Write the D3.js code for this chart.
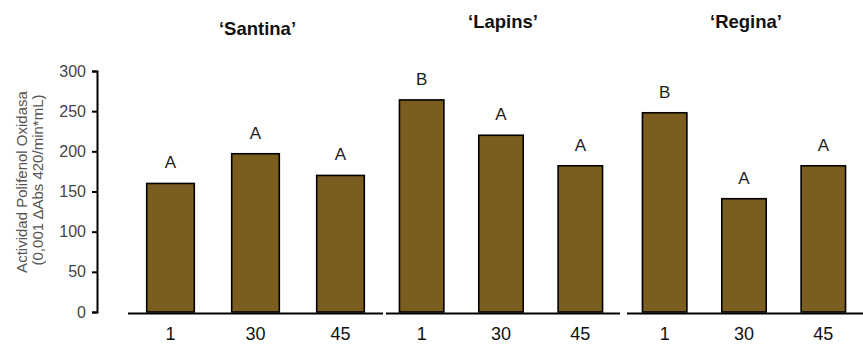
<!DOCTYPE html>
<html>
<head>
<meta charset="utf-8">
<script src="https://cdn.jsdelivr.net/npm/d3@7"></script>
<style>
  html, body { margin: 0; padding: 0; background: #fff; }
  svg { display: block; font-family: "Liberation Sans", Arial, sans-serif; }
</style>
</head>
<body>
<svg id="chart" width="863" height="345"></svg>
<script>
// Cultivars and storage days
const cultivars = ["\u2018Santina\u2019", "\u2018Lapins\u2019", "\u2018Regina\u2019"];
const days = ["1", "30", "45"];

// Polyphenol oxidase activity per cultivar, one value per storage day
const santina = [160, 197, 170];
const lapins  = [264, 220, 182];
const regina  = [248, 141, 182];
const series = [santina, lapins, regina];

// Significance letters per bar
const santinaLetters = ["A", "A", "A"];
const lapinsLetters  = ["B", "A", "A"];
const reginaLetters  = ["B", "A", "A"];
const letters = [santinaLetters, lapinsLetters, reginaLetters];

const yTicks = [0, 50, 100, 150, 200, 250, 300];
const yTitle = ["Actividad  Polifenol Oxidasa", "(0,001 \u0394Abs 420/min*mL)"];

// Layout
const panels = [
  { x0: 128, x1: 383, line0: 128, titleY: 35 },
  { x0: 382, x1: 620, line0: 386, titleY: 28 },
  { x0: 625, x1: 863, line0: 627, titleY: 28 }
];
const axisX = 97;
const fill = "#7b5d1f";

const svg = d3.select("#chart");

const y = d3.scaleLinear().domain([0, 300]).range([312, 71]);

// Y axis
const yAxis = svg.append("g")
  .attr("transform", `translate(${axisX},0)`)
  .call(d3.axisLeft(y).tickValues(yTicks).tickSize(5).tickSizeOuter(5).tickPadding(6));
yAxis.select(".domain").attr("stroke", "#000").attr("stroke-width", 2);
yAxis.selectAll(".tick line").attr("stroke", "#000").attr("stroke-width", 2);
yAxis.selectAll(".tick text")
  .attr("fill", "#444")
  .style("font-size", "16px")
  .style("font-family", "'Liberation Sans', Arial, sans-serif");

// Y title (two rotated lines)
const yMid = 182;
svg.append("text")
  .attr("transform", `translate(27,${yMid}) rotate(-90)`)
  .attr("text-anchor", "middle")
  .attr("fill", "#555")
  .style("font-size", "15px")
  .text(yTitle[0]);
svg.append("text")
  .attr("transform", `translate(43,${yMid - 2}) rotate(-90)`)
  .attr("text-anchor", "middle")
  .attr("fill", "#555")
  .style("font-size", "15px")
  .text(yTitle[1]);

panels.forEach((p, i) => {
  const x = d3.scaleBand()
    .domain(days)
    .range([p.x0, p.x1])
    .paddingInner(0.44)
    .paddingOuter(0.22);

  const g = svg.append("g");

  // bars
  g.selectAll("rect")
    .data(series[i])
    .join("rect")
    .attr("x", (d, j) => x(days[j]))
    .attr("y", d => y(d))
    .attr("width", x.bandwidth())
    .attr("height", d => y(0) - y(d))
    .attr("fill", fill)
    .attr("stroke", "#000")
    .attr("stroke-width", 1.6);

  // significance letters
  g.selectAll("text.letter")
    .data(series[i])
    .join("text")
    .attr("class", "letter")
    .attr("x", (d, j) => x(days[j]) + x.bandwidth() / 2)
    .attr("y", d => y(d) - 15)
    .attr("text-anchor", "middle")
    .attr("fill", "#222")
    .style("font-size", "17px")
    .text((d, j) => letters[i][j]);

  // baseline
  g.append("line")
    .attr("x1", p.line0)
    .attr("x2", p.x1)
    .attr("y1", y(0) + 1.5)
    .attr("y2", y(0) + 1.5)
    .attr("stroke", "#000")
    .attr("stroke-width", 2);

  // day labels
  g.selectAll("text.day")
    .data(days)
    .join("text")
    .attr("class", "day")
    .attr("x", d => x(d) + x.bandwidth() / 2)
    .attr("y", 340)
    .attr("text-anchor", "middle")
    .attr("fill", "#111")
    .style("font-size", "18px")
    .text(d => d);

  // cultivar title
  g.append("text")
    .attr("x", (p.x0 + p.x1) / 2 + 2)
    .attr("y", p.titleY)
    .attr("text-anchor", "middle")
    .attr("fill", "#111")
    .style("font-size", "18.5px")
    .style("font-weight", "bold")
    .text(cultivars[i]);
});
</script>
</body>
</html>
